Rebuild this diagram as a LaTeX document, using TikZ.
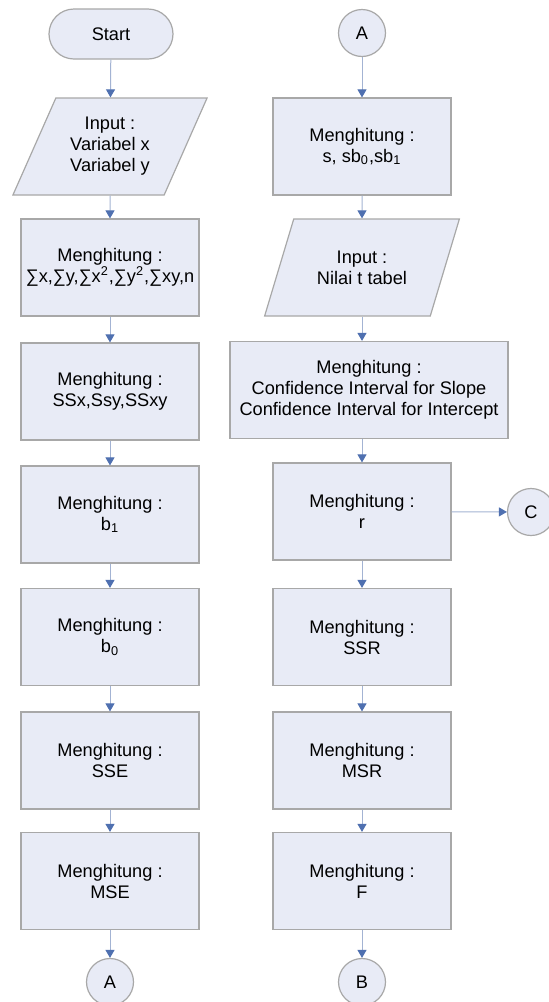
\documentclass[tikz,border=0pt]{standalone}
\usepackage{fontspec}
\setmainfont{Liberation Sans}
\usetikzlibrary{shapes.geometric,shapes.misc,arrows.meta}
\definecolor{boxfill}{HTML}{E8EBF6}
\definecolor{boxline}{HTML}{A8A8A8}
\definecolor{flowline}{HTML}{A3B3D3}
\definecolor{flowtip}{HTML}{4F70B0}
\tikzset{
  base/.style={draw=boxline, fill=boxfill, line width=0.6pt, align=center,
    font=\fontsize{9.1}{10.5}\selectfont, inner sep=1pt},
  process/.style={base, rectangle, minimum width=89pt, minimum height=48.5pt},
  io/.style={base, trapezium, trapezium left angle=62, trapezium right angle=118,
    trapezium stretches=true, minimum width=97.5pt, minimum height=48.5pt},
  terminal/.style={base, rounded rectangle, minimum width=64pt, minimum height=25pt},
  connector/.style={base, circle, minimum size=23.5pt},
  flow/.style={draw=flowline, line width=0.5pt,
    -{Triangle[width=4.5pt,length=4pt,fill=flowtip,color=flowtip]}}
}
\begin{document}
\begin{tikzpicture}[x=0.5pt,y=-0.5pt]
\useasboundingbox (0,0) rectangle (548,1002);

% left column
\node[terminal] (start) at (111,34) {Start};
\node[io] (inxy) at (110,146.5) {Input :\\Variabel x\\Variabel y};
\node[process] (sums) at (110,267.5) {Menghitung :\\∑x,∑y,∑x\textsuperscript{2},∑y\textsuperscript{2},∑xy,n};
\node[process] (ss) at (110,391.5) {Menghitung :\\SSx,Ssy,SSxy};
\node[process] (bone) at (110,514.5) {Menghitung :\\b\textsubscript{1}};
\node[process] (bzero) at (110,637) {Menghitung :\\b\textsubscript{0}};
\node[process] (sse) at (110,760.5) {Menghitung :\\SSE};
\node[process] (mse) at (110,881) {Menghitung :\\MSE};
\node[connector] (outa) at (110,982) {A};

% right column
\node[connector] (ina) at (362,33) {A};
\node[process] (sb) at (362,146.5) {Menghitung :\\s, sb\textsubscript{0},sb\textsubscript{1}};
\node[io] (ttab) at (362,267.5) {Input :\\Nilai t tabel};
\node[process, minimum width=139pt] (ci) at (369,390) {Menghitung :\\Confidence Interval for Slope\\Confidence Interval for Intercept};
\node[process] (rr) at (362,511.5) {Menghitung :\\r};
\node[process] (ssr) at (362,637) {Menghitung :\\SSR};
\node[process] (msr) at (362,760.5) {Menghitung :\\MSR};
\node[process] (ff) at (362,881) {Menghitung :\\F};
\node[connector] (outb) at (362,982) {B};
\node[connector] (outc) at (531,512) {C};

\draw[flow] (start)--(inxy);
\draw[flow] (inxy)--(sums);
\draw[flow] (sums)--(ss);
\draw[flow] (ss)--(bone);
\draw[flow] (bone)--(bzero);
\draw[flow] (bzero)--(sse);
\draw[flow] (sse)--(mse);
\draw[flow] (mse)--(outa);

\draw[flow] (ina)--(sb);
\draw[flow] (sb)--(ttab);
\draw[flow] (ttab.south)--(ci.north -| ttab.south);
\draw[flow] (ci.south -| rr.north)--(rr);
\draw[flow] (rr)--(ssr);
\draw[flow] (ssr)--(msr);
\draw[flow] (msr)--(ff);
\draw[flow] (ff)--(outb);
\draw[flow] (rr)--(outc);
\end{tikzpicture}
\end{document}
